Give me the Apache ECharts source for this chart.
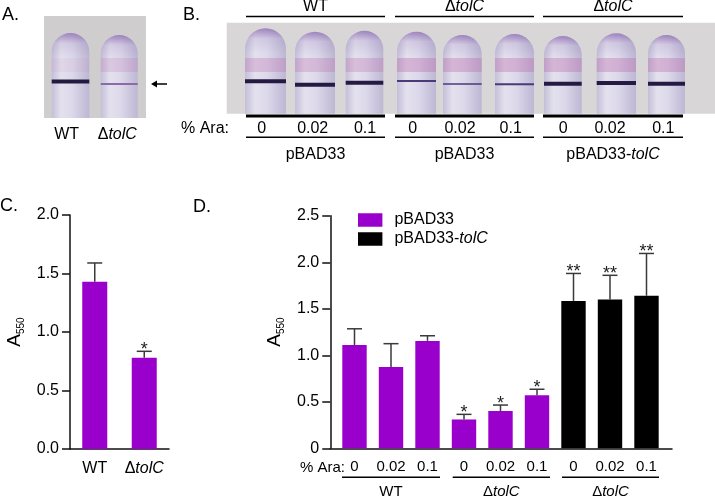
<!DOCTYPE html>
<html>
<head>
<meta charset="utf-8">
<script src="https://cdn.jsdelivr.net/npm/echarts@6/dist/echarts.min.js"></script>
<style>
  html, body { margin: 0; padding: 0; background: #fff; }
  #main { width: 715px; height: 499px; }
</style>
</head>
<body>
<div id="main"></div>
<script>
// panel C
var strainsC = ['WT', 'ΔtolC'];
var meanC = [1.43, 0.78];
var sdC = [0.16, 0.055];
var sigC = ['', '*'];

// panel D
var doseLabels = ['0', '0.02', '0.1'];
var strainsD = ['WT', 'ΔtolC', 'ΔtolC'];
var plasmidsD = ['pBAD33', 'pBAD33', 'pBAD33-tolC'];
var meanD = [1.11, 0.875, 1.155, 0.31, 0.40, 0.57, 1.585, 1.60, 1.64];
var sdD = [0.175, 0.25, 0.055, 0.055, 0.065, 0.065, 0.295, 0.26, 0.455];
var sigD = ['', '', '', '*', '*', '*', '**', '**', '**'];

var yTicksC = [0, 2.0];
var yTicksD = [0, 2.5];

var PURPLE = '#9a00cc';
var BLACK = '#000000';
var INK = '#111111';
var FONT = '"Liberation Sans", Arial, sans-serif';

var catD = [];
var plasmidOfBar = [];
strainsD.forEach(function (s, g) {
  doseLabels.forEach(function (d) {
    catD.push(g + '|' + d);
    plasmidOfBar.push(plasmidsD[g]);
  });
});

function italicTol(v) {
  return v.indexOf('Δ') === 0 ? 'Δ{i|' + v.slice(1) + '}' : v;
}

function errRenderer(sig) {
  return function (params, api) {
    var x = api.value(0), m = api.value(1), e = api.value(2);
    var p0 = api.coord([x, m]);
    var p1 = api.coord([x, m + e]);
    var half = 7.5;
    var st = { stroke: '#3a3a3a', lineWidth: 1.5 };
    return {
      type: 'group',
      children: [
        { type: 'line', shape: { x1: p0[0], y1: p0[1], x2: p1[0], y2: p1[1] }, style: st },
        { type: 'line', shape: { x1: p1[0] - half, y1: p1[1], x2: p1[0] + half, y2: p1[1] }, style: st },
        { type: 'text', style: { text: sig[params.dataIndex], x: p1[0], y: p1[1] - 1,
          textAlign: 'center', textVerticalAlign: 'middle', font: '18px ' + FONT, fill: '#222' } }
      ]
    };
  };
}

// --- photo approximations for panels A and B (decoration, not data) ---
var graphics = [];
function txt(t, x, y, size, align, extra) {
  var s = { text: t, x: x, y: y, font: size + 'px ' + FONT, fill: '#000',
    textAlign: align || 'center', textVerticalAlign: 'middle',
    rich: { i: { fontStyle: 'italic', fontSize: size, fontFamily: FONT, fill: '#000' } } };
  graphics.push({ type: 'text', style: Object.assign(s, extra || {}) });
}
function hline(x1, x2, y, w) {
  graphics.push({ type: 'line', shape: { x1: x1, y1: y, x2: x2, y2: y }, style: { stroke: '#000', lineWidth: w } });
}
function tube(x, w, top, bottom, bandY, bandH, bandColor, pink) {
  var shape = { x: x, y: top, width: w, height: bottom - top, r: [w / 2, w / 2, 0, 0] };
  graphics.push({ type: 'rect', shape: shape,
    style: { fill: new echarts.graphic.LinearGradient(0, 0, 1, 0, [
      { offset: 0, color: '#c4bfd8' }, { offset: 0.25, color: '#e4e1ee' },
      { offset: 0.55, color: '#dcd8ea' }, { offset: 1, color: '#bdb7d3' }]) } });
  graphics.push({ type: 'rect', shape: shape,
    style: { fill: new echarts.graphic.LinearGradient(0, 0, 0, 1, [
      { offset: 0, color: 'rgba(105,60,150,0.55)' }, { offset: 0.12, color: 'rgba(105,60,150,0.12)' },
      { offset: 0.3, color: 'rgba(105,60,150,0)' }, { offset: 1, color: 'rgba(105,60,150,0)' }]) } });
  if (pink) {
    graphics.push({ type: 'rect', shape: { x: x, y: 58, width: w, height: 14 },
      style: { fill: 'rgba(185,100,170,' + pink + ')' } });
  }
  graphics.push({ type: 'rect', shape: { x: x, y: bandY, width: w, height: bandH }, style: { fill: bandColor } });
}

// panel A
txt('A.', 2, 15, 18, 'left');
graphics.push({ type: 'rect', shape: { x: 44, y: 16, width: 102, height: 102 }, style: { fill: '#cfcdcd' } });
tube(51.7, 37.6, 33, 118, 79.5, 4, '#231a3f', 0.08);
tube(100.7, 37, 35, 118, 83, 2, '#8a6aa8', 0.2);
graphics.push({ type: 'line', shape: { x1: 153, y1: 84, x2: 167, y2: 84 }, style: { stroke: '#000', lineWidth: 1.5 } });
graphics.push({ type: 'polygon', shape: { points: [[151, 84], [157, 80.5], [157, 87.5]] }, style: { fill: '#000' } });
txt('WT', 66.7, 135, 16);
txt('Δ{i|tolC}', 117.3, 135, 16);

// panel B
txt('B.', 183, 15, 18, 'left');
var groupB = [[246, 385], [395, 534], [543, 683]];
var topB = ['WT', 'Δ{i|tolC}', 'Δ{i|tolC}'];
var plasB = ['pBAD33', 'pBAD33', 'pBAD33-{i|tolC}'];
var doseXB = [[261.7, 312.7, 365], [412.7, 460, 510.7], [563.3, 610, 663.3]];
graphics.push({ type: 'rect', shape: { x: 226.7, y: 22.7, width: 488.3, height: 91 }, style: { fill: '#d8d6d6' } });
var tubesB = [
  [245, 41, 28.3, 79.3, 4], [295, 40, 31.7, 82.7, 4], [345.7, 37.6, 30.7, 80.7, 4],
  [397, 39, 31.7, 80, 2], [443, 38.7, 35, 83.3, 1.5], [495, 39, 34, 83.3, 2],
  [544, 37.7, 36, 81.7, 4], [596.7, 39.3, 33.3, 81, 4], [648, 37, 35, 81.7, 4]
];
tubesB.forEach(function (t, i) {
  tube(t[0], t[1], t[2], 113.7, t[3], t[4], t[4] > 2 ? '#241a42' : '#4a3a78', i < 3 ? 0.28 : 0.35);
});
groupB.forEach(function (g, k) {
  var cx = (g[0] + g[1]) / 2;
  txt(topB[k], cx, 6.5, 16);
  hline(g[0], g[1], 16.5, 1.5);
  hline(g[0], g[1], 116, 3);
  doseLabels.forEach(function (d, j) { txt(d, doseXB[k][j], 128.3, 16); });
  hline(g[0], g[1], 137.3, 1.5);
  txt(plasB[k], cx, 155, 16);
});
txt('% Ara:', 181, 128.3, 16, 'left');

// panel letters C / D
txt('C.', 0, 206, 18, 'left');
txt('D.', 193, 207, 18, 'left');

// panel D bottom annotations
var groupD = [[342, 440], [452.7, 550], [562, 659]];
txt('% Ara:', 300, 468, 15, 'left');
groupD.forEach(function (g, k) {
  hline(g[0], g[1], 477.3, 1.5);
  txt(italicTol(strainsD[k]), (g[0] + g[1]) / 2, 492, 15);
});

var axisLineStyle = { color: INK, width: 1.5 };

var option = {
  animation: false,
  textStyle: { fontFamily: FONT, color: '#000' },
  grid: [
    { left: 70, top: 215, width: 99, height: 234 },
    { left: 336.25, top: 215.8, width: 328.5, height: 232.5 },
    { left: 330, top: 215.8, width: 342, height: 232.5 }
  ],
  legend: {
    data: ['pBAD33', 'pBAD33-tolC'],
    orient: 'vertical', left: 353, top: 207,
    itemWidth: 24.4, itemHeight: 13.5, itemGap: 3,
    icon: 'rect', selectedMode: false,
    formatter: function (n) { return n === 'pBAD33-tolC' ? 'pBAD33-{i|tolC}' : n; },
    textStyle: { fontSize: 16, color: '#000', padding: [0, 0, 0, 7],
      rich: { i: { fontStyle: 'italic', fontSize: 16, color: '#000' } } }
  },
  xAxis: [
    { gridIndex: 0, type: 'category', data: strainsC,
      axisLine: { lineStyle: axisLineStyle },
      axisTick: { alignWithLabel: true, interval: 0, length: 8, lineStyle: axisLineStyle },
      axisLabel: { color: '#000', fontSize: 16, margin: 12, interval: 0, formatter: italicTol,
        rich: { i: { fontStyle: 'italic', fontSize: 16, color: '#000' } } } },
    { gridIndex: 1, type: 'category', data: catD,
      axisLine: { show: false },
      axisTick: { alignWithLabel: true, interval: 0, length: 8, lineStyle: axisLineStyle },
      axisLabel: { color: '#000', fontSize: 15, margin: 11, interval: 0,
        formatter: function (v) { return v.split('|')[1]; } } },
    { gridIndex: 2, type: 'value', min: 0, max: 1,
      axisLine: { show: true, lineStyle: axisLineStyle },
      axisTick: { show: false }, axisLabel: { show: false }, splitLine: { show: false } }
  ],
  yAxis: [
    { gridIndex: 0, type: 'value', min: yTicksC[0], max: yTicksC[1], interval: 0.5,
      axisLine: { show: true, lineStyle: axisLineStyle },
      axisTick: { show: true, length: 8, lineStyle: axisLineStyle },
      splitLine: { show: false },
      axisLabel: { color: '#000', fontSize: 16, margin: 11,
        formatter: function (v) { return v.toFixed(1); } },
      name: 'A{s|550}', nameLocation: 'middle', nameGap: 44, nameRotate: 90,
      nameTextStyle: { fontSize: 19, color: '#000',
        rich: { s: { fontSize: 10, color: '#000', verticalAlign: 'bottom', lineHeight: 22 } } } },
    { gridIndex: 1, type: 'value', min: yTicksD[0], max: yTicksD[1], interval: 0.5, offset: 6,
      axisLine: { show: true, lineStyle: axisLineStyle },
      axisTick: { show: true, length: 8, lineStyle: axisLineStyle },
      splitLine: { show: false },
      axisLabel: { color: '#000', fontSize: 16, margin: 11,
        formatter: function (v) { return v === 0 ? '0' : v.toFixed(1); } },
      name: 'A{s|550}', nameLocation: 'middle', nameGap: 44, nameRotate: 90,
      nameTextStyle: { fontSize: 19, color: '#000',
        rich: { s: { fontSize: 10, color: '#000', verticalAlign: 'bottom', lineHeight: 22 } } } },
    { gridIndex: 2, type: 'value', show: false }
  ],
  series: [
    { name: 'C', type: 'bar', xAxisIndex: 0, yAxisIndex: 0, data: meanC, barWidth: 25,
      itemStyle: { color: PURPLE } },
    { type: 'custom', xAxisIndex: 0, yAxisIndex: 0, z: 5,
      data: meanC.map(function (m, i) { return [i, m, sdC[i]]; }),
      encode: { x: 0, y: 1 }, renderItem: errRenderer(sigC) },
    { name: 'pBAD33', type: 'bar', xAxisIndex: 1, yAxisIndex: 1, barWidth: 24.4, barGap: '-100%',
      itemStyle: { color: PURPLE },
      data: meanD.map(function (m, i) { return plasmidOfBar[i] === 'pBAD33' ? m : '-'; }) },
    { name: 'pBAD33-tolC', type: 'bar', xAxisIndex: 1, yAxisIndex: 1, barWidth: 24.4, barGap: '-100%',
      itemStyle: { color: BLACK },
      data: meanD.map(function (m, i) { return plasmidOfBar[i] === 'pBAD33-tolC' ? m : '-'; }) },
    { type: 'custom', xAxisIndex: 1, yAxisIndex: 1, z: 5,
      data: meanD.map(function (m, i) { return [i, m, sdD[i]]; }),
      encode: { x: 0, y: 1 }, renderItem: errRenderer(sigD) }
  ],
  graphic: graphics
};

var chart = echarts.init(document.getElementById('main'));
chart.setOption(option);
</script>
</body>
</html>
